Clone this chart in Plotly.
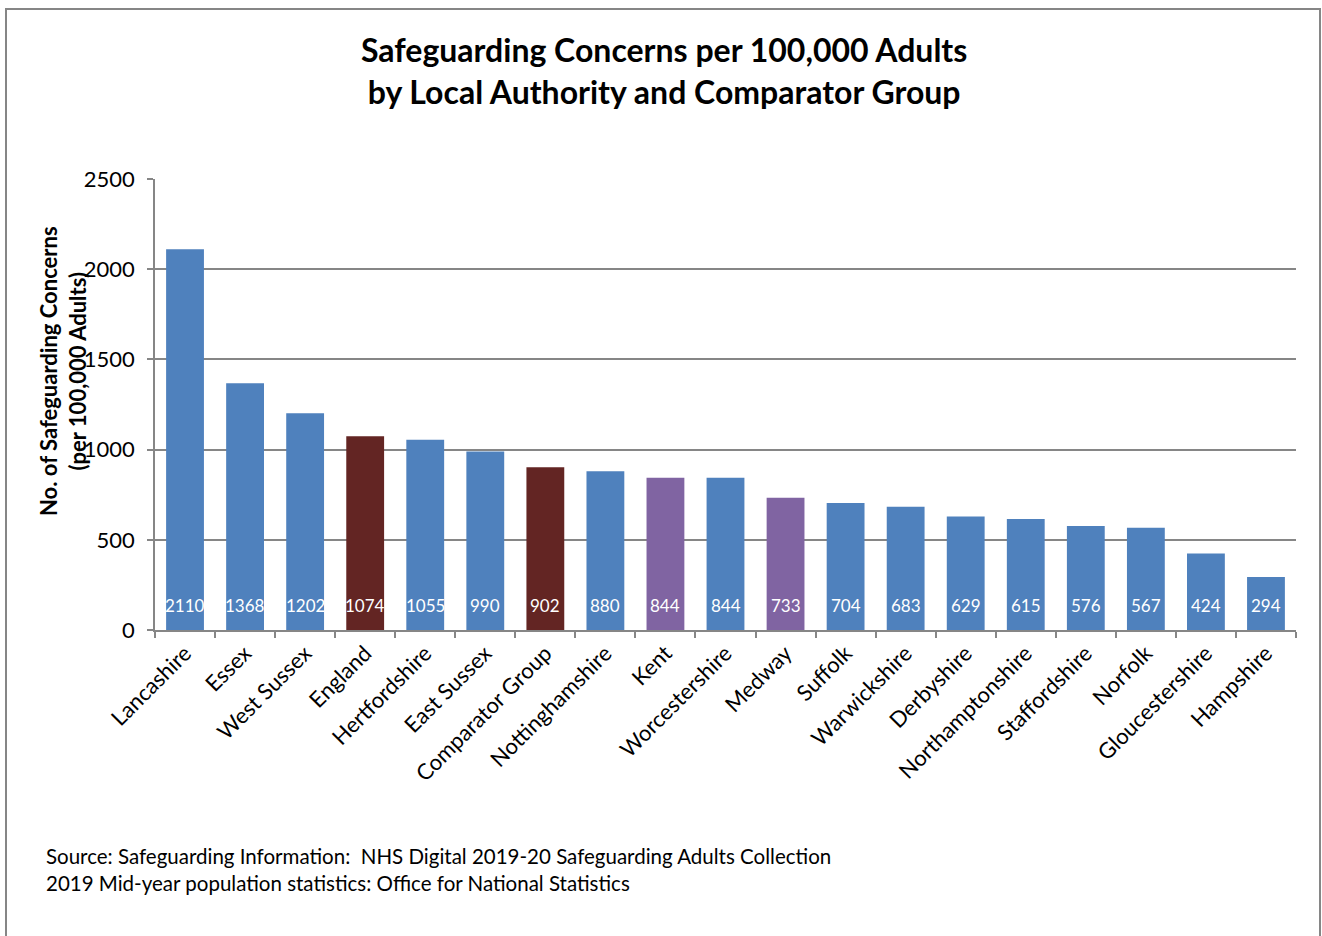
import plotly.graph_objects as go

categories = ["Lancashire", "Essex", "West Sussex", "England", "Hertfordshire", "East Sussex",
              "Comparator Group", "Nottinghamshire", "Kent", "Worcestershire", "Medway", "Suffolk",
              "Warwickshire", "Derbyshire", "Northamptonshire", "Staffordshire", "Norfolk",
              "Gloucestershire", "Hampshire"]
values = [2110, 1368, 1202, 1074, 1055, 990, 902, 880, 844, 844, 733, 704, 683, 629, 615, 576, 567, 424, 294]
groups = ["la", "la", "la", "bench", "la", "la", "bench", "la", "hl", "la", "hl", "la",
          "la", "la", "la", "la", "la", "la", "la"]
group_colors = {"la": "#4F81BD", "bench": "#632523", "hl": "#8064A2"}

FONT = "Lato"

L, R, T, B = 155, 26, 179, 306
W, H = 1322, 936
pw, ph = W - L - R, H - T - B

def px_x(x):
    return (x - L) / pw

def px_y(y):
    return (H - B - y) / ph

fig = go.Figure()
fig.add_trace(go.Bar(
    x=categories, y=values,
    marker=dict(color=[group_colors[g] for g in groups], line=dict(width=0)),
    hoverinfo="x+y", showlegend=False,
))

for c, v in zip(categories, values):
    fig.add_annotation(x=c, y=0, text=str(v), showarrow=False, yanchor="bottom", yshift=12,
                       font=dict(family=FONT, size=17, color="white"))

fig.update_layout(
    width=W, height=H,
    margin=dict(l=L, r=R, t=T, b=B),
    paper_bgcolor="white", plot_bgcolor="white",
    bargap=0.37,
    font=dict(family=FONT, color="black"),
)
fig.update_yaxes(range=[0, 2500], tickvals=[0, 500, 1000, 1500, 2000, 2500],
                 showgrid=True, gridcolor="#868686", gridwidth=1.5,
                 showline=True, linecolor="#868686", linewidth=1.5,
                 ticks="outside", ticklen=6, tickcolor="#868686", tickwidth=1.5,
                 ticklabelstandoff=8,
                 tickfont=dict(family=FONT, size=22, color="black"), zeroline=False)
fig.update_xaxes(showline=True, linecolor="#868686", linewidth=1.5,
                 ticks="outside", ticklen=6, tickcolor="#868686", tickwidth=1.5,
                 tickson="boundaries", tickangle=-45,
                 tickfont=dict(family=FONT, size=22, color="black"))

fig.add_annotation(text="<b>Safeguarding Concerns per 100,000 Adults<br>by Local Authority and Comparator Group</b>",
                   xref="paper", yref="paper", x=px_x(664), y=px_y(71), xanchor="center", yanchor="middle",
                   showarrow=False, font=dict(family=FONT, size=32, color="black"))
fig.add_annotation(text="<b>No. of Safeguarding Concerns<br>(per 100,000 Adults)</b>",
                   xref="paper", yref="paper", x=px_x(33), y=px_y(371), textangle=-90,
                   showarrow=False, font=dict(family=FONT, size=22, color="black"))
fig.add_annotation(text="Source: Safeguarding Information:  NHS Digital 2019-20 Safeguarding Adults Collection<br>"
                        "2019 Mid-year population statistics: Office for National Statistics",
                   xref="paper", yref="paper", x=px_x(44), y=px_y(842), xanchor="left", yanchor="top",
                   align="left", showarrow=False, font=dict(family=FONT, size=20.5, color="black"))

fig.add_shape(type="rect", xref="paper", yref="paper",
              x0=px_x(6), x1=px_x(1320), y0=px_y(960), y1=px_y(9),
              line=dict(color="#868686", width=2), fillcolor="rgba(0,0,0,0)", layer="below")

fig.write_html("out.html", config={"displayModeBar": False},
               post_script="document.body.style.margin='0px';document.body.style.overflow='hidden';")
